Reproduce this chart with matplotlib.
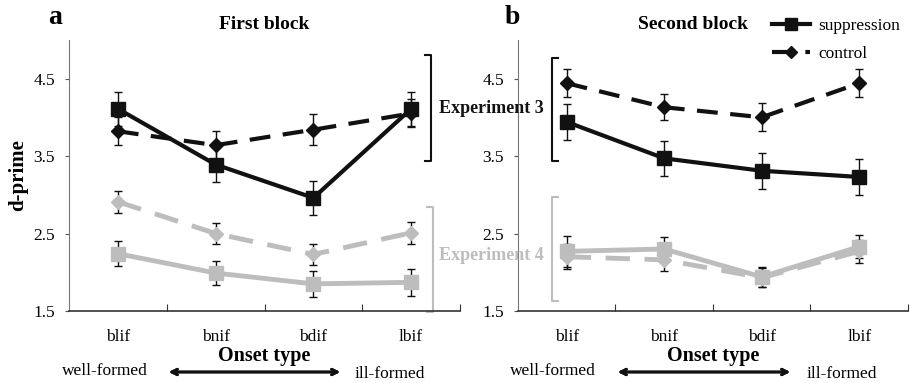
import numpy as np
import matplotlib.pyplot as plt
from matplotlib.lines import Line2D

plt.rcParams["font.family"] = ["Liberation Serif", "DejaVu Serif"]

# onset types on the x axis
onsets = ["blif", "bnif", "bdif", "lbif"]

# first block (panel a)
exp3_supp_1 = [4.11, 3.39, 2.96, 4.11]
exp3_supp_1_err = [0.22, 0.22, 0.22, 0.22]
exp3_ctrl_1 = [3.82, 3.64, 3.84, 4.05]
exp3_ctrl_1_err = [0.18, 0.18, 0.20, 0.18]
exp4_supp_1 = [2.24, 1.99, 1.85, 1.87]
exp4_supp_1_err = [0.16, 0.16, 0.17, 0.17]
exp4_ctrl_1 = [2.91, 2.50, 2.23, 2.51]
exp4_ctrl_1_err = [0.14, 0.14, 0.14, 0.14]

# second block (panel b)
exp3_supp_2 = [3.94, 3.47, 3.31, 3.23]
exp3_supp_2_err = [0.23, 0.23, 0.23, 0.23]
exp3_ctrl_2 = [4.44, 4.13, 4.00, 4.44]
exp3_ctrl_2_err = [0.18, 0.17, 0.18, 0.18]
exp4_supp_2 = [2.27, 2.30, 1.94, 2.33]
exp4_supp_2_err = [0.20, 0.15, 0.13, 0.15]
exp4_ctrl_2 = [2.20, 2.16, 1.93, 2.27]
exp4_ctrl_2_err = [0.16, 0.14, 0.12, 0.15]

black = "#111111"
gray = "#bdbdbd"
dash = (0, (5, 3))

fig = plt.figure(figsize=(9.11, 3.83), dpi=100)
ax1 = fig.add_axes([0.0757, 0.188, 0.4293, 0.708])
ax2 = fig.add_axes([0.5686, 0.188, 0.4281, 0.708])

x = np.arange(len(onsets))


def draw_series(ax, y, err, color, ls, marker, ms, lw):
    ax.errorbar(x, y, yerr=err, fmt="none", ecolor=black, elinewidth=1,
                capsize=3, capthick=1, zorder=2)
    ax.plot(x, y, color=color, linestyle=ls, linewidth=lw, marker=marker,
            markersize=ms, markerfacecolor=color, markeredgecolor=color,
            zorder=3)


def style_axis(ax):
    ax.set_xlim(-0.5, 3.5)
    ax.set_ylim(1.5, 5.0)
    ax.set_yticks([1.5, 2.5, 3.5, 4.5])
    ax.set_yticklabels(["1.5", "2.5", "3.5", "4.5"], fontsize=12.5)
    ax.set_xticks([0.5, 1.5, 2.5, 3.5])
    ax.set_xticklabels([])
    ax.set_xticks(x, minor=True)
    ax.set_xticklabels(onsets, minor=True, fontsize=12.5)
    ax.tick_params(axis="x", which="minor", length=0, pad=13)
    ax.tick_params(axis="x", which="major", length=5, direction="in",
                   color="#333333")
    ax.tick_params(axis="y", length=3, direction="out", color="#555555",
                   pad=7)
    ax.spines["top"].set_visible(False)
    ax.spines["right"].set_visible(False)
    ax.spines["left"].set_color("#777777")
    ax.spines["bottom"].set_color("#333333")
    ax.spines["bottom"].set_linewidth(1.2)
    ax.set_xlabel("Onset type", fontsize=14.5, fontweight="bold", labelpad=1)


def bracket(ax, xb, y0, y1, color, side):
    t = 0.06 * side
    ax.plot([xb - t, xb, xb, xb - t], [y0, y0, y1, y1], color=color,
            linewidth=1.5, clip_on=False, zorder=1)


# panel a
draw_series(ax1, exp4_supp_1, exp4_supp_1_err, gray, "-", "s", 10, 3.5)
draw_series(ax1, exp4_ctrl_1, exp4_ctrl_1_err, gray, dash, "D", 7, 3.5)
draw_series(ax1, exp3_ctrl_1, exp3_ctrl_1_err, black, dash, "D", 7, 3)
draw_series(ax1, exp3_supp_1, exp3_supp_1_err, black, "-", "s", 10, 3)
style_axis(ax1)
ax1.set_ylabel("d-prime", fontsize=15, fontweight="bold", labelpad=4)
ax1.set_title("First block", fontsize=14, fontweight="bold", pad=8)
bracket(ax1, 3.2, 3.44, 4.80, black, 1)
bracket(ax1, 3.22, 1.49, 2.84, gray, 1)

# panel b
draw_series(ax2, exp4_ctrl_2, exp4_ctrl_2_err, gray, dash, "D", 7, 3.5)
draw_series(ax2, exp4_supp_2, exp4_supp_2_err, gray, "-", "s", 10, 3.5)
draw_series(ax2, exp3_ctrl_2, exp3_ctrl_2_err, black, dash, "D", 7, 3)
draw_series(ax2, exp3_supp_2, exp3_supp_2_err, black, "-", "s", 10, 3)
style_axis(ax2)
ax2.set_title("Second block", fontsize=14, fontweight="bold", pad=8,
              x=0.45)
bracket(ax2, -0.15, 3.44, 4.77, black, -1)
bracket(ax2, -0.15, 1.63, 2.97, gray, -1)

# labels between panels
fig.text(491 / 911, 1 - 108 / 383, "Experiment 3", fontsize=13,
         fontweight="bold", color=black, ha="center", va="center")
fig.text(491 / 911, 1 - 255 / 383, "Experiment 4", fontsize=13,
         fontweight="bold", color=gray, ha="center", va="center", zorder=0)

fig.text(55 / 911, 1 - 17 / 383, "a", fontsize=20, fontweight="bold",
         ha="center", va="center")
fig.text(512 / 911, 1 - 17 / 383, "b", fontsize=20, fontweight="bold",
         ha="center", va="center")

# legend
handles = [
    Line2D([], [], color=black, linewidth=3, marker="s", markersize=8),
    Line2D([], [], color=black, linewidth=3, linestyle=dash, marker="D",
           markersize=6),
]
fig.legend(handles, ["suppression", "control"], loc="upper left",
           bbox_to_anchor=(772 / 911, 1 - 18 / 383), frameon=False,
           fontsize=12.5, handlelength=2.2, handletextpad=0.45,
           labelspacing=0.7, borderpad=0, borderaxespad=0)

# well-formed / ill-formed arrows under each panel
for left, a0, a1, right in [(105, 166, 343, 355), (553, 615, 793, 807)]:
    fig.text(left / 911, 1 - 371 / 383, "well-formed", fontsize=12.5,
             ha="center", va="center")
    fig.text(right / 911, 1 - 374 / 383, "ill-formed", fontsize=12.5,
             ha="left", va="center")
    fig.add_artist(plt.annotate(
        "", xy=(a1 / 911, 1 - 372 / 383), xytext=(a0 / 911, 1 - 372 / 383),
        xycoords="figure fraction", textcoords="figure fraction",
        arrowprops=dict(arrowstyle="<->", color=black, lw=2)))

fig.savefig("out.png", dpi=100)
